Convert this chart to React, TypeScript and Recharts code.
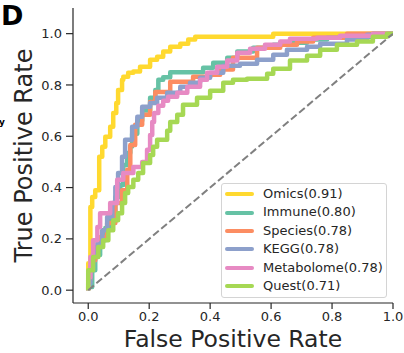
import React from 'react';
import { LineChart, Line, XAxis, YAxis, Label } from 'recharts';

const omicsFpr = [0, 0, 0.007, 0.007, 0.013, 0.023, 0.036, 0.036, 0.046, 0.056, 0.072, 0.082, 0.092, 0.098, 0.111, 0.115, 0.131, 0.148, 0.17, 0.203, 0.226, 0.246, 0.269, 0.302, 0.328, 0.351, 0.361, 0.607, 0.607, 1];
const omicsTpr = [0, 0.105, 0.105, 0.285, 0.324, 0.363, 0.39, 0.496, 0.52, 0.559, 0.598, 0.637, 0.691, 0.73, 0.78, 0.82, 0.832, 0.848, 0.852, 0.871, 0.898, 0.91, 0.93, 0.949, 0.961, 0.977, 0.988, 0.988, 1, 1];

const immuneFpr = [0, 0.013, 0.023, 0.039, 0.056, 0.072, 0.089, 0.105, 0.115, 0.128, 0.138, 0.144, 0.161, 0.177, 0.203, 0.22, 0.23, 0.246, 0.269, 0.325, 0.377, 0.41, 0.456, 0.489, 0.541, 0.607, 0.662, 0.718, 0.784, 0.869, 0.934, 1];
const immuneTpr = [0, 0.012, 0.078, 0.137, 0.195, 0.242, 0.305, 0.363, 0.41, 0.488, 0.535, 0.56, 0.61, 0.66, 0.7, 0.75, 0.78, 0.82, 0.83, 0.85, 0.85, 0.867, 0.887, 0.906, 0.93, 0.945, 0.957, 0.965, 0.977, 0.984, 0.988, 1];

const speciesFpr = [0, 0.007, 0.013, 0.023, 0.039, 0.062, 0.089, 0.111, 0.128, 0.138, 0.154, 0.177, 0.203, 0.22, 0.269, 0.344, 0.4, 0.433, 0.475, 0.554, 0.63, 0.685, 0.738, 0.849, 1];
const speciesTpr = [0, 0.04, 0.078, 0.117, 0.168, 0.207, 0.262, 0.34, 0.39, 0.469, 0.566, 0.645, 0.684, 0.734, 0.773, 0.8125, 0.832, 0.84, 0.86, 0.906, 0.945, 0.957, 0.969, 0.984, 1];

const keggFpr = [0, 0.007, 0.016, 0.03, 0.046, 0.062, 0.079, 0.089, 0.098, 0.111, 0.121, 0.144, 0.161, 0.177, 0.203, 0.226, 0.259, 0.302, 0.334, 0.367, 0.4, 0.443, 0.498, 0.554, 0.607, 0.652, 0.718, 0.761, 0.849, 0.915, 0.99, 1];
const keggTpr = [0, 0.027, 0.09, 0.145, 0.184, 0.234, 0.285, 0.34, 0.402, 0.457, 0.52, 0.586, 0.637, 0.676, 0.715, 0.73, 0.75, 0.77, 0.793, 0.809, 0.828, 0.848, 0.875, 0.883, 0.898, 0.918, 0.9375, 0.949, 0.961, 0.977, 0.996, 1];

const metabolomeFpr = [0, 0.007, 0.016, 0.03, 0.039, 0.072, 0.095, 0.115, 0.148, 0.177, 0.193, 0.203, 0.21, 0.216, 0.23, 0.246, 0.262, 0.292, 0.325, 0.367, 0.39, 0.423, 0.456, 0.489, 0.531, 0.58, 0.63, 0.662, 0.751, 0.826, 0.934, 1];
const metabolomeTpr = [0, 0.05, 0.129, 0.195, 0.246, 0.3, 0.34, 0.43, 0.457, 0.48, 0.5, 0.547, 0.605, 0.656, 0.691, 0.719, 0.738, 0.754, 0.77, 0.793, 0.82, 0.848, 0.871, 0.895, 0.926, 0.941, 0.957, 0.969, 0.98, 0.984, 0.992, 1];

const questFpr = [0, 0.016, 0.033, 0.049, 0.066, 0.082, 0.098, 0.111, 0.121, 0.131, 0.148, 0.164, 0.18, 0.203, 0.213, 0.226, 0.259, 0.269, 0.292, 0.311, 0.357, 0.4, 0.443, 0.475, 0.521, 0.587, 0.607, 0.662, 0.718, 0.761, 0.816, 0.882, 0.934, 0.98, 1];
const questTpr = [0, 0.078, 0.129, 0.168, 0.195, 0.234, 0.273, 0.3, 0.34, 0.379, 0.402, 0.43, 0.457, 0.496, 0.527, 0.559, 0.586, 0.621, 0.656, 0.684, 0.723, 0.75, 0.777, 0.809, 0.82, 0.824, 0.844, 0.863, 0.895, 0.914, 0.9375, 0.957, 0.969, 0.988, 1];

const chanceFpr = [0, 1];
const chanceTpr = [0, 1];

const seriesNames = ['Omics', 'Immune', 'Species', 'KEGG', 'Metabolome', 'Quest'];
const aucValues = ['0.91', '0.80', '0.78', '0.78', '0.78', '0.71'];
const seriesColors = ['#ffd92f', '#66c2a5', '#fc8d62', '#8da0cb', '#e78ac3', '#a6d854'];
const axisTicks = [0, 0.2, 0.4, 0.6, 0.8, 1.0];

const zip = (xs: number[], ys: number[]) => xs.map((x, i) => ({ x, y: ys[i] }));

const seriesData = [
  zip(omicsFpr, omicsTpr),
  zip(immuneFpr, immuneTpr),
  zip(speciesFpr, speciesTpr),
  zip(keggFpr, keggTpr),
  zip(metabolomeFpr, metabolomeTpr),
  zip(questFpr, questTpr),
];
const chanceData = zip(chanceFpr, chanceTpr);

const FONT = '"DejaVu Sans", Verdana, sans-serif';
const INK = '#262626';

export default function App() {
  return (
    <div style={{ position: 'absolute', left: 0, top: 0, width: 404, height: 353, fontFamily: FONT, background: '#fff' }}>
      <LineChart width={404} height={353} margin={{ top: 8, right: 11, bottom: 0, left: 0 }}>
        <XAxis
          dataKey="x"
          type="number"
          domain={[-0.05, 1.0]}
          allowDataOverflow
          ticks={axisTicks}
          tickFormatter={(v: number) => v.toFixed(1)}
          height={50}
          tickSize={6}
          tickMargin={3}
          tick={{ fill: INK, fontSize: 13, fontFamily: FONT }}
          tickLine={{ stroke: INK, strokeWidth: 1.2 }}
          axisLine={{ stroke: INK, strokeWidth: 1.2 }}
        >
          <Label
            content={(p: any) => {
              const vb = p.viewBox || { x: 73, y: 303, width: 320 };
              return (
                <text x={vb.x + vb.width / 2} y={vb.y + 44.3} textAnchor="middle" fill={INK} fontSize={23.5} fontFamily={FONT}>
                  False Positive Rate
                </text>
              );
            }}
          />
        </XAxis>
        <YAxis
          type="number"
          domain={[-0.05, 1.1]}
          allowDataOverflow
          ticks={axisTicks}
          tickFormatter={(v: number) => v.toFixed(1)}
          width={73}
          tickSize={7}
          tickMargin={4}
          tick={{ fill: INK, fontSize: 13, fontFamily: FONT }}
          tickLine={{ stroke: INK, strokeWidth: 1.2 }}
          axisLine={{ stroke: INK, strokeWidth: 1.2 }}
        >
          <Label
            content={(p: any) => {
              const vb = p.viewBox || { x: 0, y: 8, width: 73, height: 295 };
              const cy = vb.y + vb.height / 2;
              return (
                <text x={32} y={cy} transform={`rotate(-90 32 ${cy})`} textAnchor="middle" fill={INK} fontSize={24} fontFamily={FONT}>
                  True Positive Rate
                </text>
              );
            }}
          />
        </YAxis>
        <XAxis
          xAxisId="top"
          orientation="top"
          dataKey="x"
          type="number"
          domain={[-0.05, 1.0]}
          height={0}
          tick={false}
          tickLine={false}
          axisLine={{ stroke: INK, strokeWidth: 1.2 }}
        />
        <YAxis
          yAxisId="right"
          orientation="right"
          type="number"
          domain={[-0.05, 1.1]}
          width={0}
          tick={false}
          tickLine={false}
          axisLine={{ stroke: INK, strokeWidth: 1.2 }}
        />
        {seriesData.map((d, i) => (
          <Line
            key={seriesNames[i]}
            data={d}
            dataKey="y"
            name={seriesNames[i]}
            type="stepBefore"
            stroke={seriesColors[i]}
            strokeWidth={4.5}
            strokeLinejoin="round"
            dot={false}
            activeDot={false}
            isAnimationActive={false}
          />
        ))}
        <Line
          data={chanceData}
          dataKey="y"
          name="chance"
          type="linear"
          stroke="#808080"
          strokeWidth={2}
          strokeDasharray="7.4 3.2"
          dot={false}
          activeDot={false}
          legendType="none"
          isAnimationActive={false}
        />
      </LineChart>

      <svg width={404} height={353} style={{ position: 'absolute', left: 0, top: 0, pointerEvents: 'none' }}>
        <text x={1} y={25} fontSize={27} fontWeight="bold" fill="#000" fontFamily={FONT}>D</text>
        <text x={-1} y={125} fontSize={9} fontWeight="bold" fill="#000" fontFamily={FONT}>y</text>
      </svg>

      <div
        style={{
          position: 'absolute',
          left: 221,
          top: 183,
          width: 166,
          height: 115,
          boxSizing: 'border-box',
          border: '1px solid #d4d4d4',
          borderRadius: 3,
          background: 'rgba(255,255,255,0.8)',
          paddingTop: 1,
          paddingLeft: 3,
        }}
      >
        {seriesNames.map((n, i) => (
          <div key={n} style={{ display: 'flex', alignItems: 'center', height: 18.4 }}>
            <div style={{ width: 29, height: 4, background: seriesColors[i], borderRadius: 2 }} />
            <span style={{ marginLeft: 9, fontSize: 13, color: INK, fontFamily: FONT, lineHeight: '18.4px', whiteSpace: 'nowrap' }}>
              {`${n}(${aucValues[i]})`}
            </span>
          </div>
        ))}
      </div>
    </div>
  );
}
